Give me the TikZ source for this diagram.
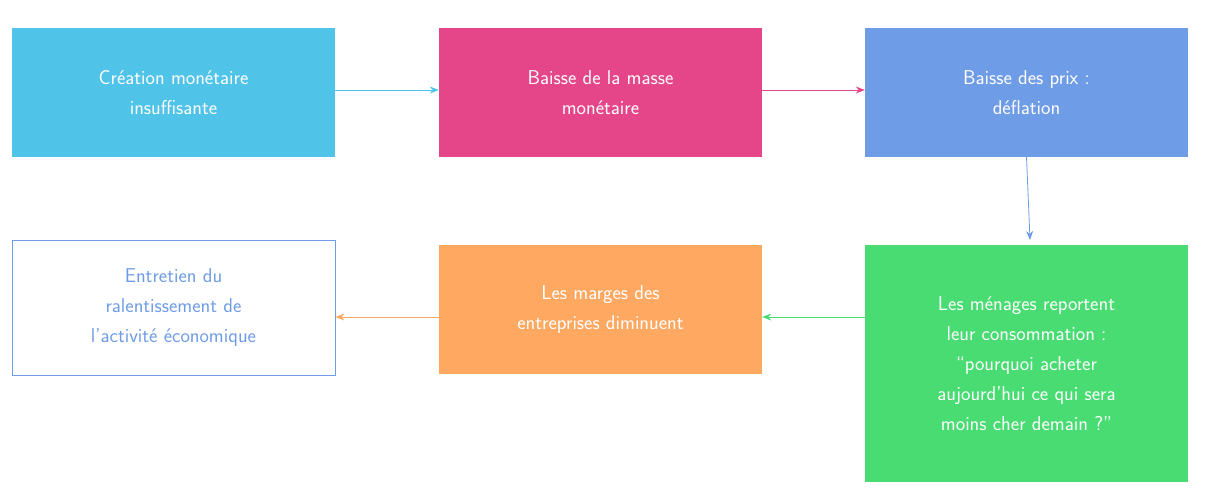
\documentclass[tikz,border=0pt]{standalone}
\usetikzlibrary{arrows.meta}
\definecolor{ccyan}{HTML}{50C3E8}
\definecolor{cmag}{HTML}{E5468A}
\definecolor{cblue}{HTML}{6F9CE6}
\definecolor{cgreen}{HTML}{48DC73}
\definecolor{corange}{HTML}{FFA862}
\begin{document}
\begin{tikzpicture}[x=1pt,y=-1pt,
  box/.style={minimum width=323pt,inner sep=0pt,align=center,text=white,font=\sffamily\fontsize{20}{30}\selectfont},
  arr/.style={-{Stealth[length=9pt,width=7pt]},line width=0.8pt}]
\useasboundingbox (0,0) rectangle (1206,498);
\node[box,fill=ccyan,minimum height=129pt] (a) at (173.5,92.5) {Création monétaire\\insuffisante};
\node[box,fill=cmag,minimum height=129pt] (b) at (600.5,92.5) {Baisse de la masse\\monétaire};
\node[box,fill=cblue,minimum height=129pt] (c) at (1026.5,92.5) {Baisse des prix :\\déflation};
\node[box,fill=cgreen,minimum height=237pt] (d) at (1026.5,363.5) {Les ménages reportent\\leur consommation :\\“pourquoi acheter\\aujourd’hui ce qui sera\\moins cher demain ?”};
\node[box,fill=corange,minimum height=129pt] (e) at (600.5,309.5) {Les marges des\\entreprises diminuent};
\node[box,draw=cblue,text=cblue,fill=white,minimum height=135pt,line width=0.8pt] (f) at (173.5,307.5) {Entretien du\\ralentissement de\\l’activité économique};
\draw[arr,ccyan] (a.east |- 0,90) -- (b.west |- 0,90);
\draw[arr,cmag] (b.east |- 0,90) -- (c.west |- 0,90);
\draw[arr,cblue] (c.south) -- (1030,240);
\draw[arr,cgreen] (d.west |- 0,317) -- (e.east |- 0,317);
\draw[arr,corange] (e.west |- 0,317) -- (f.east |- 0,317);
\end{tikzpicture}
\end{document}
